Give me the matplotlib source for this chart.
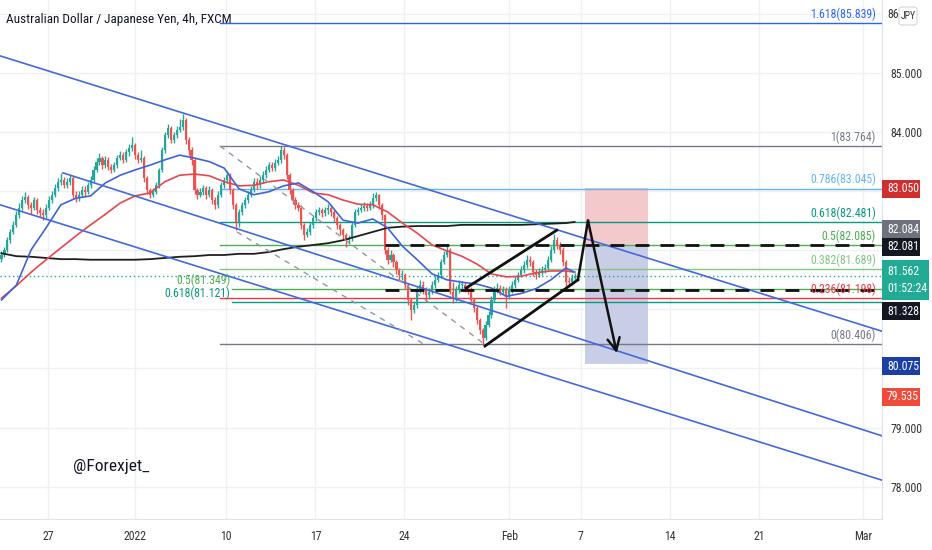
import numpy as np
import matplotlib
matplotlib.use("Agg")
import matplotlib.pyplot as plt
import matplotlib.transforms as mtransforms
from matplotlib import font_manager as fm
from matplotlib.patches import Rectangle, FancyBboxPatch

# narrow font if one is installed, else Roboto
cands = ['Liberation Sans Narrow', 'Roboto Condensed', 'Open Sans Condensed',
         'Noto Sans Condensed', 'DejaVu Sans Condensed', 'Arial Narrow']
fams = {f.name for f in fm.fontManager.ttflist}
family = next((c for c in cands if c in fams), None)
stretch = 'normal'
if family is None:
    cond = [f for f in fm.fontManager.ttflist
            if str(f.stretch) in ('condensed', 'semi-condensed', 'extra-condensed')
            and f.style == 'normal' and f.weight in (400, 'normal', 'regular')]
    if cond:
        family, stretch = cond[0].name, cond[0].stretch
    else:
        family = 'Roboto'
plt.rcParams['font.family'] = [family, 'DejaVu Sans']
plt.rcParams['font.stretch'] = stretch
NARROW = stretch != 'normal' or family != 'Roboto'
FS = 8.5 if NARROW else 7.8

# --- AUDJPY 4h candles (bar index 0..193) ---
first_open = 81.85
close = [81.92, 82.01, 82.17, 82.31, 82.43, 82.60, 82.72, 82.85, 82.90, 82.77,
         82.72, 82.85, 82.68, 82.63, 82.60, 82.72, 82.85, 82.94, 83.05, 83.16,
         83.19, 83.10, 83.16, 83.22, 82.94, 82.89, 82.94, 83.02, 82.99, 83.10,
         83.19, 83.36, 83.50, 83.56, 83.44, 83.53, 83.41, 83.36, 83.44, 83.56,
         83.61, 83.53, 83.66, 83.73, 83.78, 83.61, 83.53, 83.56, 83.22, 83.02,
         82.94, 82.99, 83.10, 83.36, 83.70, 83.95, 84.07, 83.87, 83.95, 84.04,
         84.09, 84.20, 83.87, 83.70, 83.53, 83.02, 82.94, 82.99, 83.05, 82.94,
         83.02, 82.85, 82.77, 82.94, 83.10, 83.19, 83.27, 83.02, 82.77, 82.48,
         82.65, 82.77, 82.85, 82.94, 83.02, 83.16, 83.10, 83.19, 83.27, 83.36,
         83.44, 83.39, 83.48, 83.53, 83.70, 83.61, 83.27, 83.02, 82.85, 82.77,
         82.72, 82.43, 82.26, 82.31, 82.43, 82.55, 82.65, 82.68, 82.63, 82.68,
         82.72, 82.65, 82.55, 82.43, 82.34, 82.26, 82.17, 82.21, 82.43, 82.65,
         82.68, 82.72, 82.75, 82.72, 82.77, 82.89, 82.94, 82.77, 82.60, 82.01,
         81.84, 81.92, 81.80, 81.67, 81.58, 81.58, 81.41, 81.16, 80.99, 81.07,
         81.33, 81.41, 81.33, 81.24, 81.30, 81.41, 81.50, 81.58, 81.80, 81.92,
         82.01, 81.30, 81.19, 81.33, 81.41, 81.41, 81.36, 81.33, 81.16, 81.02,
         80.82, 80.65, 80.52, 80.74, 80.91, 81.16, 81.33, 81.36, 81.30, 81.33,
         81.24, 81.33, 81.41, 81.50, 81.58, 81.67, 81.75, 81.84, 81.80, 81.63,
         81.58, 81.63, 81.67, 81.70, 81.84, 82.01, 82.17, 82.09, 82.01, 81.80,
         81.47, 81.46, 81.53, 81.562]
high = [81.98, 82.06, 82.22, 82.36, 82.50, 82.66, 82.80, 82.92, 82.98, 82.94,
        82.82, 82.90, 82.88, 82.74, 82.70, 82.78, 82.92, 83.00, 83.12, 83.22,
        83.30, 83.24, 83.22, 83.28, 83.26, 83.00, 83.00, 83.08, 83.08, 83.16,
        83.26, 83.42, 83.56, 83.64, 83.60, 83.60, 83.58, 83.46, 83.50, 83.62,
        83.68, 83.66, 83.72, 83.80, 83.92, 83.82, 83.66, 83.70, 83.60, 83.26,
        83.06, 83.05, 83.16, 83.40, 83.75, 84.00, 84.14, 84.10, 84.00, 84.10,
        84.22, 84.30, 84.24, 83.92, 83.74, 83.56, 83.06, 83.06, 83.10, 83.08,
        83.08, 83.06, 82.90, 83.00, 83.16, 83.24, 83.34, 83.30, 83.06, 82.80,
        82.70, 82.82, 82.90, 83.00, 83.08, 83.22, 83.22, 83.26, 83.34, 83.42,
        83.50, 83.50, 83.54, 83.60, 83.764, 83.74, 83.64, 83.30, 83.06, 82.90,
        82.82, 82.76, 82.46, 82.38, 82.48, 82.60, 82.70, 82.74, 82.72, 82.74,
        82.78, 82.76, 82.68, 82.58, 82.46, 82.38, 82.30, 82.26, 82.48, 82.70,
        82.74, 82.78, 82.82, 82.80, 82.84, 82.97, 82.98, 82.96, 82.80, 82.62,
        82.06, 82.00, 81.96, 81.84, 81.70, 81.66, 81.62, 81.44, 81.20, 81.14,
        81.40, 81.50, 81.48, 81.38, 81.36, 81.48, 81.56, 81.64, 81.86, 81.98,
        82.10, 82.04, 81.46, 81.40, 81.50, 81.48, 81.46, 81.40, 81.38, 81.20,
        81.06, 80.86, 80.68, 80.80, 80.98, 81.22, 81.40, 81.44, 81.42, 81.40,
        81.38, 81.40, 81.48, 81.56, 81.64, 81.74, 81.82, 81.92, 81.90, 81.84,
        81.68, 81.70, 81.74, 81.76, 81.90, 82.08, 82.28, 82.22, 82.14, 82.06,
        81.84, 81.54, 81.60, 81.62]
low = [81.80, 81.88, 81.97, 82.12, 82.27, 82.40, 82.55, 82.68, 82.80, 82.70,
       82.62, 82.68, 82.62, 82.56, 82.52, 82.55, 82.68, 82.80, 82.90, 83.00,
       83.10, 83.05, 83.05, 83.10, 82.88, 82.82, 82.84, 82.90, 82.92, 82.95,
       83.05, 83.15, 83.32, 83.45, 83.38, 83.40, 83.36, 83.30, 83.32, 83.40,
       83.52, 83.48, 83.50, 83.60, 83.68, 83.55, 83.48, 83.50, 83.16, 82.96,
       82.88, 82.90, 82.95, 83.05, 83.32, 83.65, 83.90, 83.82, 83.82, 83.90,
       84.00, 84.04, 83.80, 83.62, 83.45, 82.95, 82.86, 82.90, 82.94, 82.86,
       82.90, 82.78, 82.70, 82.72, 82.90, 83.05, 83.14, 82.96, 82.70, 82.34,
       82.40, 82.60, 82.72, 82.80, 82.90, 82.98, 83.04, 83.06, 83.14, 83.22,
       83.32, 83.34, 83.34, 83.44, 83.48, 83.55, 83.20, 82.96, 82.78, 82.70,
       82.66, 82.36, 82.18, 82.22, 82.26, 82.38, 82.50, 82.60, 82.56, 82.58,
       82.62, 82.58, 82.48, 82.36, 82.26, 82.18, 82.06, 82.10, 82.16, 82.40,
       82.60, 82.64, 82.66, 82.66, 82.68, 82.72, 82.84, 82.70, 82.52, 81.94,
       81.76, 81.80, 81.72, 81.60, 81.50, 81.50, 81.34, 81.08, 80.82, 80.94,
       81.02, 81.28, 81.26, 81.12, 81.18, 81.26, 81.36, 81.46, 81.54, 81.76,
       81.88, 81.26, 81.10, 81.14, 81.28, 81.34, 81.30, 81.26, 81.10, 80.96,
       80.76, 80.58, 80.406, 80.48, 80.70, 80.86, 81.12, 81.28, 81.24, 81.26,
       81.02, 81.18, 81.28, 81.36, 81.46, 81.54, 81.62, 81.70, 81.74, 81.56,
       81.52, 81.54, 81.58, 81.62, 81.66, 81.80, 81.96, 82.02, 81.94, 81.74,
       81.40, 81.40, 81.42, 81.50]

# moving averages, read every 5 bars
ma_idx = list(range(0, 191, 5)) + [193]
ma_fast = [81.16, 81.41, 82.01, 82.38, 82.77, 82.88, 82.92, 83.14, 83.27, 83.36,
           83.44, 83.53, 83.61, 83.56, 83.50, 83.39, 83.04, 82.94, 82.99, 83.09,
           83.14, 82.99, 82.82, 82.51, 82.46, 82.53, 82.38, 82.07, 81.84, 81.60,
           81.50, 81.46, 81.43, 81.36, 81.22, 81.27, 81.35, 81.50, 81.70, 81.63]
ma_mid = [81.19, 81.40, 81.63, 81.84, 82.04, 82.24, 82.43, 82.61, 82.80, 82.92,
          82.97, 83.16, 83.27, 83.29, 83.26, 83.16, 83.09, 83.10, 83.16, 83.19,
          83.10, 82.97, 82.94, 82.85, 82.78, 82.77, 82.65, 82.46, 82.29, 82.09,
          81.99, 81.90, 81.77, 81.60, 81.55, 81.56, 81.62, 81.65, 81.65, 81.63]
ma_slow = [81.95, 81.90, 81.89, 81.87, 81.85, 81.85, 81.84, 81.84, 81.84, 81.84,
           81.85, 81.87, 81.89, 81.90, 81.92, 81.92, 81.94, 81.94, 81.97, 82.02,
           82.06, 82.09, 82.12, 82.17, 82.24, 82.31, 82.38, 82.40, 82.41, 82.41,
           82.41, 82.43, 82.43, 82.43, 82.43, 82.43, 82.44, 82.45, 82.46, 82.48]

# fib retracement (right labels)
fib_levels = ['1.618', '1', '0.786', '0.618', '0.5', '0.382', '0.236', '0']
fib_prices = [85.839, 83.764, 83.045, 82.481, 82.085, 81.689, 81.198, 80.406]
fib_colors = ['#2962ff', '#787b86', '#64b5f6', '#089981', '#4caf50', '#81c784',
              '#f23645', '#787b86']
# second fib (left labels)
fib2_levels = ['0.5', '0.618']
fib2_prices = [81.349, 81.121]
fib2_colors = ['#4caf50', '#089981']

# horizontal levels
box_levels = [82.081, 81.328]
last_price = 81.562
stop_price, entry_price, target_price = 83.050, 82.084, 80.075

# price tags on the right axis: text, shown at, colour
tag_text = ['83.050', '82.084', '82.081', '81.562\n01:52:24', '81.328', '80.075', '79.535']
tag_at = [83.04, 82.36, 82.06, 81.50, 80.97, 80.04, 79.52]
tag_color = ['#cf2f2f', '#6f727d', '#131722', '#22ab94', '#131722', '#1c3fa6', '#f04a3a']

date_ticks = [15.7, 45.0, 75.7, 105.7, 135.5, 171.0, 195.0, 225.0, 255.0, 290.0]
date_labels = ['27', '2022', '10', '17', '24', 'Feb', '7', '14', '21', 'Mar']
grid_prices = [78, 79, 80, 81, 82, 83, 84, 85, 86]
label_prices = [78, 79, 84, 85]   # the rest sit under the price tags

# drawings: (bar0, price0, bar1, price1)
channel_lines = [(-0.5, 85.29, 296.5, 80.63),
                 (20.7, 83.31, 296.5, 78.86),
                 (-0.5, 82.77, 296.5, 78.11)]
fib_trend = [(73.6, 83.764, 162.8, 80.406),
             (79.3, 82.31, 143.3, 80.38)]
rise_lines = [(156.4, 81.36, 187.0, 82.34),
              (162.8, 80.38, 194.1, 81.50)]
arrow_x = [194.1, 197.5, 207.2]
arrow_y = [81.50, 82.50, 80.26]

XL = (-0.5, 296.5)
YL = (77.453, 86.235)

fig = plt.figure(figsize=(9.32, 5.5), dpi=100)
ax = fig.add_axes([0, 31 / 550, 882 / 932, 519 / 550])
ax.set_xlim(*XL)
ax.set_ylim(*YL)

for s in ['top', 'left']:
    ax.spines[s].set_visible(False)
for s in ['right', 'bottom']:
    ax.spines[s].set_color('#e0e3eb')
ax.set_xticks(date_ticks)
ax.set_xticklabels(date_labels)
ax.yaxis.tick_right()
ax.set_yticks(grid_prices)
ax.set_yticklabels([f"{v:.3f}" if v in label_prices else '' for v in grid_prices])
ax.tick_params(axis='x', length=0, pad=8, labelsize=FS, colors='#333333')
ax.tick_params(axis='y', length=0, pad=6, labelsize=FS, colors='#333333')
ax.grid(color='#eef0f3', lw=1, zorder=0)
ax.set_axisbelow(True)

# position tool
ax.add_patch(Rectangle((196.5, entry_price), 21.2, stop_price - entry_price,
                       fc='#f4c9cc', ec='none', zorder=1))
ax.add_patch(Rectangle((196.5, target_price), 21.2, entry_price - target_price,
                       fc='#c8cee6', ec='none', zorder=1))

# fib levels
for lv, p, c in zip(fib_levels, fib_prices, fib_colors):
    ax.plot([73.6, XL[1]], [p, p], color=c, lw=1, zorder=2)
    ax.annotate(f"{lv}({p:.3f})", (294.4, p), xytext=(0, 1.5), textcoords='offset points',
                ha='right', va='bottom', fontsize=FS, color=c, zorder=7)
for lv, p, c in zip(fib2_levels, fib2_prices, fib2_colors):
    ax.plot([77.6, XL[1]], [p, p], color=c, lw=1, zorder=2)
    ax.annotate(f"{lv}({p:.3f})", (77.0, p), xytext=(0, 1.5), textcoords='offset points',
                ha='right', va='bottom', fontsize=FS, color=c, zorder=7)

ax.axhline(last_price, color='#22ab94', lw=1, ls=(0, (1, 2)), zorder=2)

# candles
c = np.array(close)
o = np.r_[first_open, c[:-1]]
h = np.array(high)
l = np.array(low)
idx = np.arange(len(c))
up = c >= o
col = np.where(up, '#26a69a', '#ef5350')
ax.vlines(idx, l, h, colors=col, lw=1.0, zorder=3)
body = np.maximum(np.abs(c - o), 0.015)
ax.bar(idx, body, 0.72, bottom=np.minimum(o, c), color=col, lw=0, zorder=3)

# moving averages
ax.plot(ma_idx, ma_slow, color='#1f1f1f', lw=1.3, zorder=4)
ax.plot(ma_idx, ma_mid, color='#e8454f', lw=1.2, zorder=4)
ax.plot(ma_idx, ma_fast, color='#3f63d8', lw=1.2, zorder=4)

# channels and trend drawings
for x0, y0, x1, y1 in channel_lines:
    ax.plot([x0, x1], [y0, y1], color='#4468e0', lw=1.2, zorder=5)
for x0, y0, x1, y1 in fib_trend:
    ax.plot([x0, x1], [y0, y1], color='#9598a1', lw=1, ls=(0, (4, 4)), zorder=5)
for p in box_levels:
    ax.plot([129.1, XL[1]], [p, p], color='#111111', lw=2, ls=(0, (5, 4)), zorder=6)
for x0, y0, x1, y1 in rise_lines:
    ax.plot([x0, x1], [y0, y1], color='#111111', lw=2, zorder=6)
ax.plot(arrow_x[:2], arrow_y[:2], color='#111111', lw=1.8, zorder=6)
ax.annotate('', xy=(arrow_x[2], arrow_y[2]), xytext=(arrow_x[1], arrow_y[1]),
            arrowprops=dict(arrowstyle='->', color='#111111', lw=1.8,
                            mutation_scale=22, shrinkA=0, shrinkB=0), zorder=6)

# price tags on the axis
blend = mtransforms.blended_transform_factory(ax.transAxes, ax.transData)
ppx = (YL[1] - YL[0]) / 519.0
for t, y, fc in zip(tag_text, tag_at, tag_color):
    two = '\n' in t
    hh = (40 if two else 18) * ppx
    ww = (47 if two else 38) / 882
    ax.add_patch(Rectangle((1.0, y - hh / 2), ww, hh, transform=blend,
                           fc=fc, ec='none', clip_on=False, zorder=8))
    ax.text(1 + 5 / 882, y, t, transform=blend, ha='left', va='center',
            fontsize=FS, color='white', linespacing=1.35, clip_on=False, zorder=9)

# partly hidden 86 label and the JPY currency box
fig.text(887 / 932, 1 - 14 / 550, '86', ha='left', va='center', fontsize=FS,
         color='#333333')
fig.patches.append(FancyBboxPatch((899 / 932, 1 - 25 / 550), 18 / 932, 18 / 550,
                                  boxstyle='round,pad=0,rounding_size=0.004',
                                  transform=fig.transFigure, fc='white',
                                  ec='#d1d4dc', lw=0.8, zorder=10))
fig.text(908 / 932, 1 - 16 / 550, 'JPY', ha='center', va='center',
         fontsize=FS - 1.5, color='#333333', zorder=11)

fig.text(6 / 932, 1 - 19 / 550, 'Australian Dollar / Japanese Yen, 4h, FXCM',
         ha='left', va='center', fontsize=FS + 1, color='#131722')
fig.text(73 / 932, 1 - 466 / 550, '@Forexjet_', ha='left', va='center',
         fontsize=FS + 4, color='#131722')

fig.savefig('out.png', dpi=100, facecolor='white')
